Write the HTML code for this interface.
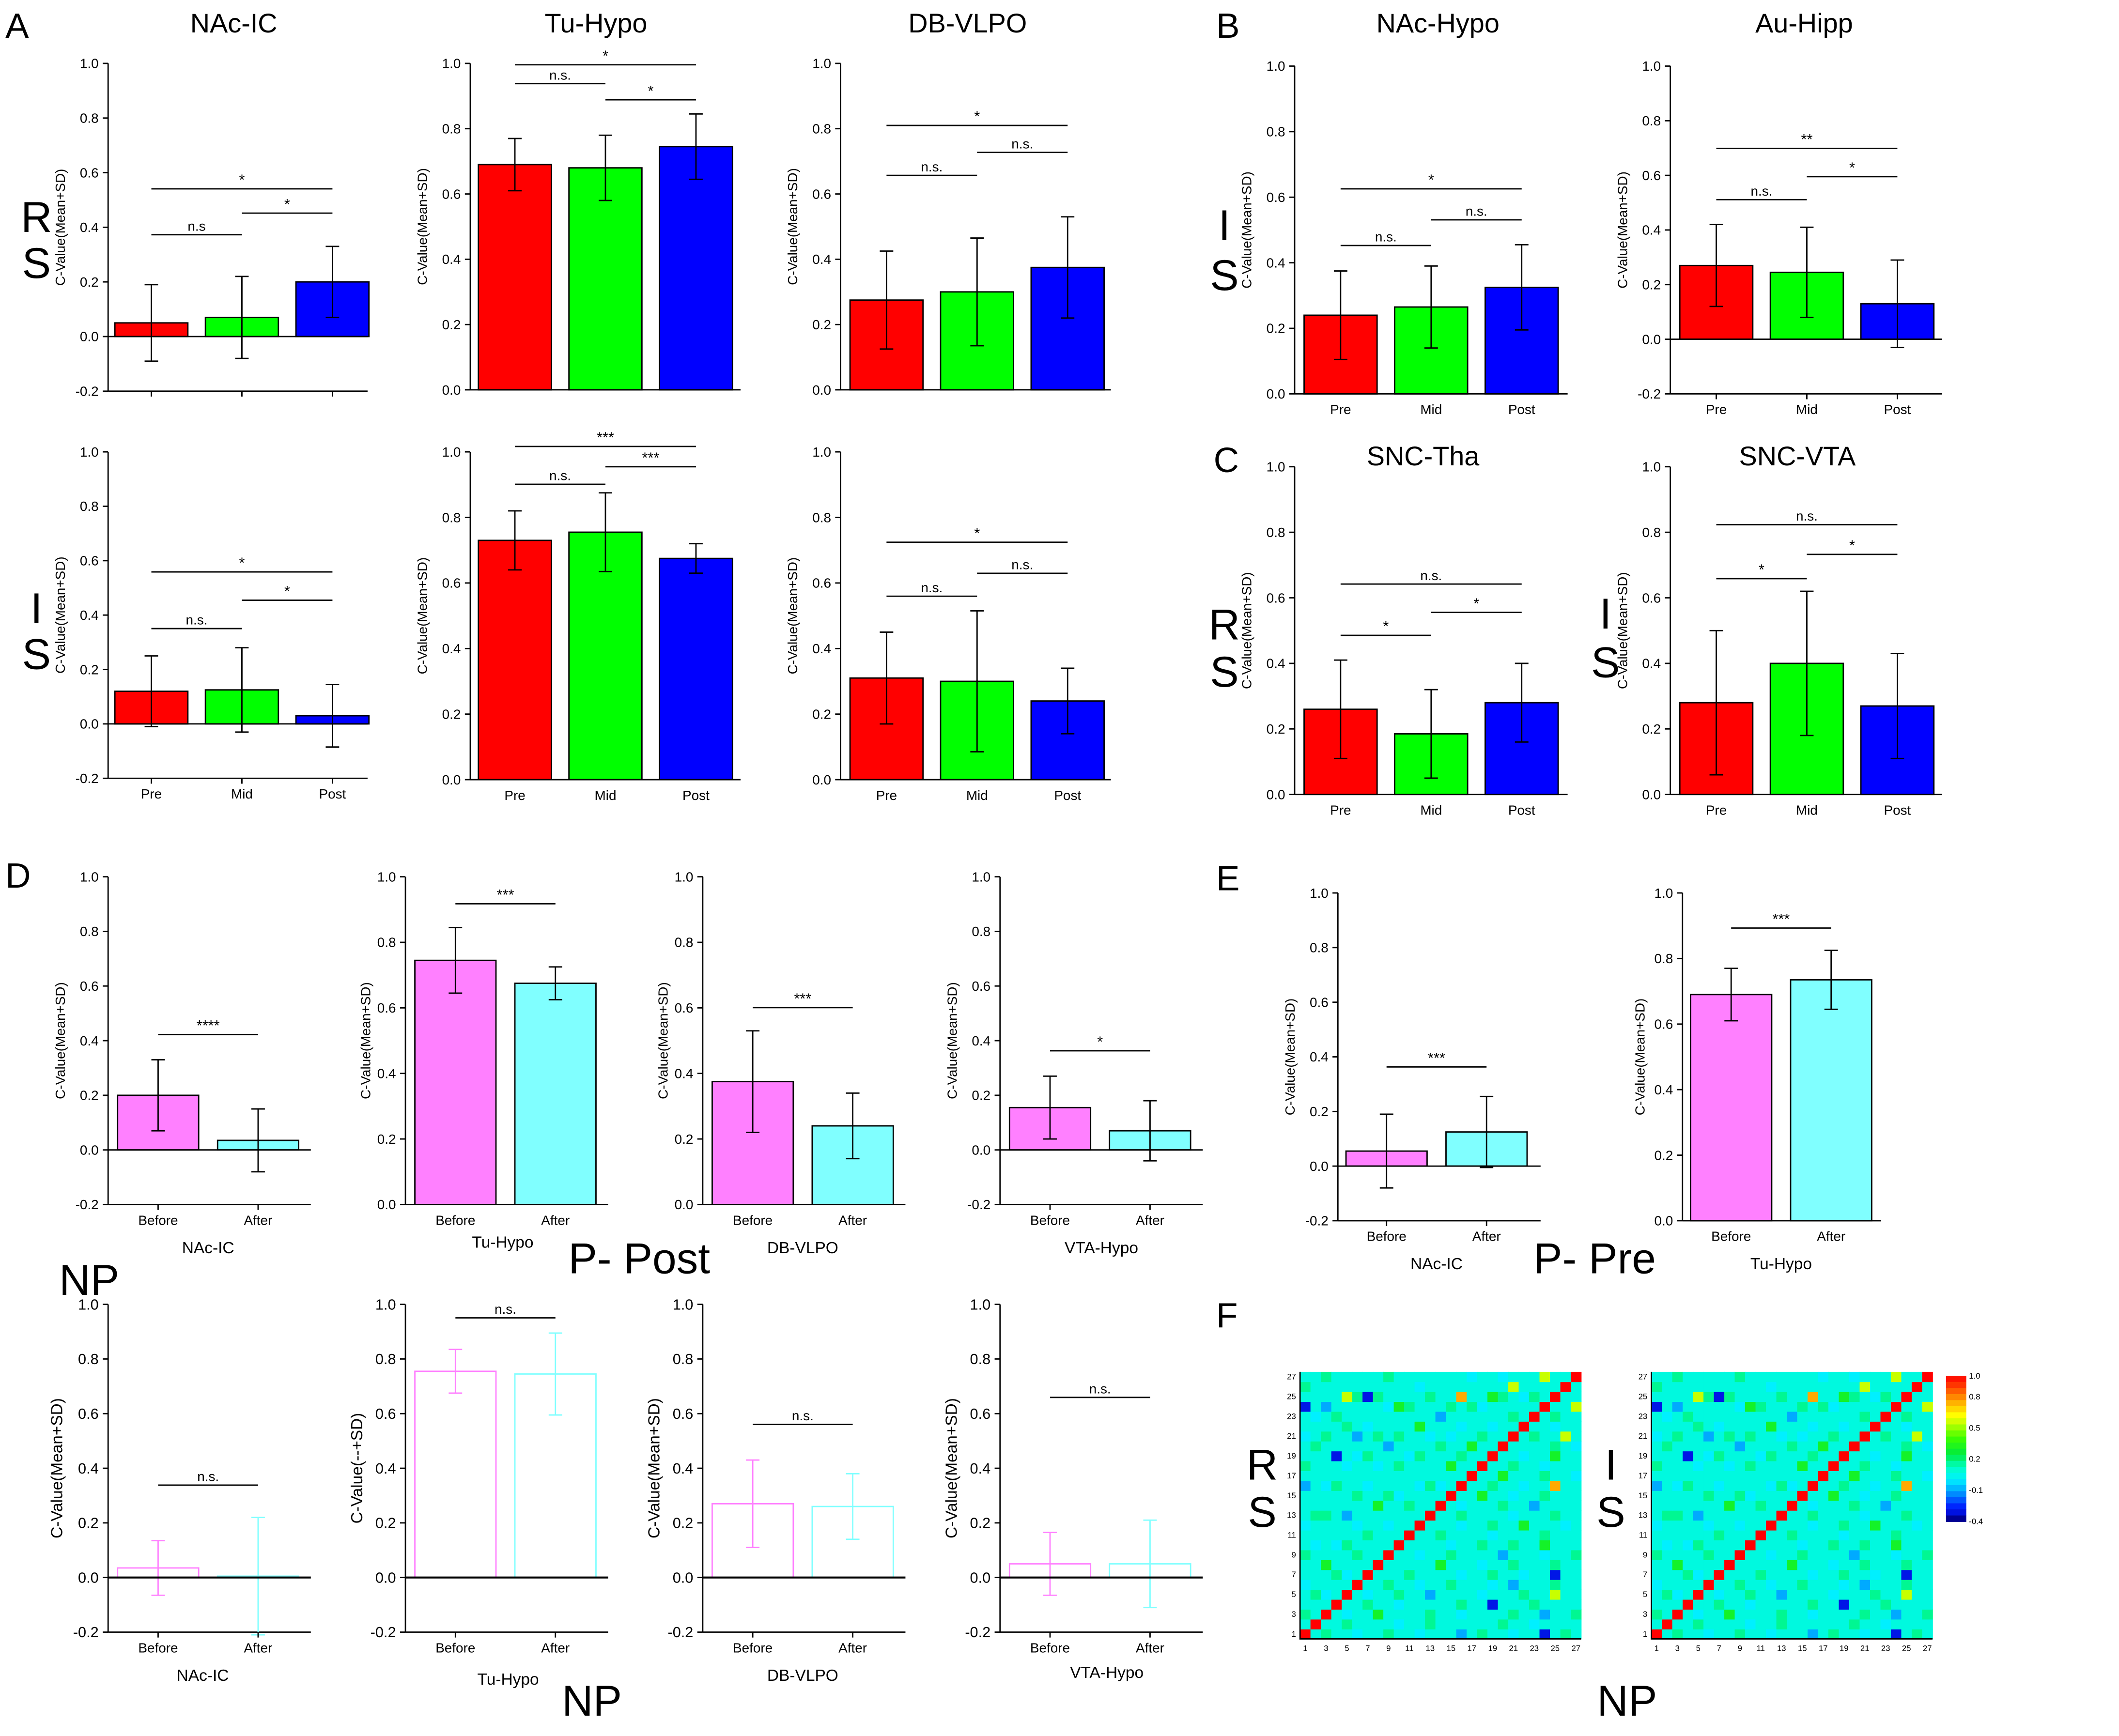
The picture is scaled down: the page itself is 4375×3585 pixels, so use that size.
<!DOCTYPE html>
<html><head><meta charset="utf-8"><style>
html,body{margin:0;padding:0;background:#fff;}
svg{display:block;font-family:"Liberation Sans",Arial,sans-serif;}
</style></head><body>
<svg id="fig" xmlns="http://www.w3.org/2000/svg" width="4375" height="3585" viewBox="0 0 1568 1287" preserveAspectRatio="none">
<rect width="1568" height="1287" fill="#fff"/>
<g id="labels" font-size="26">
<text x="4" y="28">A</text>
<text x="900" y="28">B</text>
<text x="898" y="350">C</text>
<text x="4" y="658">D</text>
<text x="900" y="660">E</text>
<text x="900" y="984">F</text>
</g>
<g font-size="32" text-anchor="middle">
<text x="27" y="172">R</text>
<text x="27" y="206">S</text>
<text x="27" y="462">I</text>
<text x="27" y="496">S</text>
<text x="906" y="178">I</text>
<text x="906" y="215">S</text>
<text x="906" y="474">R</text>
<text x="906" y="509">S</text>
<text x="1188" y="466">I</text>
<text x="1188" y="502">S</text>
<text x="473" y="944">P- Post</text>
<text x="66" y="960">NP</text>
<text x="1180" y="944">P- Pre</text>
<text x="438" y="1272">NP</text>
<text x="934" y="1097">R</text>
<text x="934" y="1132">S</text>
<text x="1192" y="1097">I</text>
<text x="1192" y="1132">S</text>
<text x="1204" y="1272">NP</text>
</g>
</svg>
<script>
// ---- data ----
const catsA = ["Pre","Mid","Post"];
const catsD = ["Before","After"];
const valsA1 = [0.05,0.07,0.20];      const sdA1 = [0.14,0.15,0.13];
const valsA2 = [0.69,0.68,0.745];     const sdA2 = [0.08,0.10,0.10];
const valsA3 = [0.275,0.30,0.375];    const sdA3 = [0.15,0.165,0.155];
const valsA4 = [0.12,0.125,0.03];     const sdA4 = [0.13,0.155,0.115];
const valsA5 = [0.73,0.755,0.675];    const sdA5 = [0.09,0.12,0.045];
const valsA6 = [0.31,0.30,0.24];      const sdA6 = [0.14,0.215,0.10];
const valsB1 = [0.24,0.265,0.325];    const sdB1 = [0.135,0.125,0.13];
const valsB2 = [0.27,0.245,0.13];     const sdB2 = [0.15,0.165,0.16];
const valsC1 = [0.26,0.185,0.28];     const sdC1 = [0.15,0.135,0.12];
const valsC2 = [0.28,0.40,0.27];      const sdC2 = [0.22,0.22,0.16];
const valsD1 = [0.20,0.035];  const sdD1 = [0.13,0.115];
const valsD2 = [0.745,0.675]; const sdD2 = [0.10,0.05];
const valsD3 = [0.375,0.24];  const sdD3 = [0.155,0.10];
const valsD4 = [0.155,0.07];  const sdD4 = [0.115,0.11];
const valsE1 = [0.055,0.125]; const sdE1 = [0.135,0.13];
const valsE2 = [0.69,0.735];  const sdE2 = [0.08,0.09];
const valsN1 = [0.035,0.005]; const sdN1 = [0.10,0.215];
const valsN2 = [0.755,0.745]; const sdN2 = [0.08,0.15];
const valsN3 = [0.27,0.26];   const sdN3 = [0.16,0.12];
const valsN4 = [0.05,0.05];   const sdN4 = [0.115,0.16];
const yTicks = [1.0,0.8,0.6,0.4,0.2,0.0,-0.2];
const hmRows = [
"R.:..,..:..,...b.:..,..B.:.",".R..:....,..:......:..,....","..R.,..g....:..,....:..b..:",
"...R..:..,.....:..B...:....","....R.,..:..b....,...:..y..",".....R..:..,..:...,.b...:..",
"......R...:....,..:..,..B..",".......R.....g...,..:...:..","........R..,..:....b...,..:",
".........R....,..:..:..g...","..........R..:....,....:...","...........R...,..:..g...,.",
"............R..:....,...:..",".............R.,...:..b....","..............R..g..,..:...",
"...............R..:..,..o..","................R..g...:..,",".................R..:..,...",
"..................R..,..g..","...................R....:.,","....................R.:..y.",
".....................R..,..","......................R.:..",".......................R..y",
"........................R..",".........................R.","..........................R"];
const hmLevels = {'.':0.07, ',':0.0, ':':0.17, 'g':0.3, 'b':-0.1, 'B':-0.3, 'y':0.55, 'o':0.75, 'R':1.0};
const cbTicks = [1.0,0.8,0.5,0.2,-0.1,-0.4];

const NS="http://www.w3.org/2000/svg";
const svg=document.getElementById('fig');
function mk(tag,attrs,parent){const e=document.createElementNS(NS,tag);for(const k in attrs)e.setAttribute(k,attrs[k]);(parent||svg).appendChild(e);return e;}
function txt(s,attrs,parent){const e=mk('text',attrs,parent);e.textContent=s;return e;}

const RED="#ff0000",GRN="#00ff00",BLU="#0000ff",MAG="#ff80ff",CYN="#80ffff";

function panel(o){
  const g=mk('g',{});
  
  
  const min=o.min, ax=o.ax, ytop=o.ytop, ybot=o.ybot;
  const Y=v=>ytop+(1-v)/(1-min)*(ybot-ytop);
  const fs=o.fs||10;
  if(o.title){const t=txt(o.title,{x:o.tx,y:o.ty||24,'font-size':20,'text-anchor':'middle'},g);
    
    }
  const ya=mk('line',{x1:ax,y1:ytop,x2:ax,y2:ybot,stroke:'#000','stroke-width':1},g);
  
  
  yTicks.filter(v=>v>=min-1e-9).forEach(v=>{
    mk('line',{x1:ax-4,y1:Y(v),x2:ax,y2:Y(v),stroke:'#000','stroke-width':1},g);
    const t=txt(v.toFixed(1),{x:ax-7,y:Y(v)+fs*0.35,'font-size':fs,'text-anchor':'end'},g);
    
    
  });
  const yt=txt(o.ytitle||"C-Value(Mean+SD)",{transform:`translate(${ax-o.ytoff},${(ytop+ybot)/2}) rotate(-90)`,'font-size':o.yfs||10,'text-anchor':'middle'},g);
  
  
  if(min<0){mk('line',{x1:ax,y1:ybot,x2:o.right,y2:ybot,stroke:'#000','stroke-width':1},g);}
  o.vals.forEach((v,i)=>{
    const cx=o.c0+i*o.step, w=o.bw;
    const y0=Y(0), yv=Y(v);
    const r=mk('rect',{x:cx-w/2,y:Math.min(y0,yv),width:w,height:Math.abs(y0-yv),
      fill:o.outline?'none':o.colors[i],stroke:o.outline?o.colors[i]:'#000','stroke-width':1},g);
    
    
    const ec=o.outline?o.colors[i]:'#000';
    const eb=mk('path',{d:`M${cx},${Y(v-o.sds[i])}V${Y(v+o.sds[i])}M${cx-5},${Y(v-o.sds[i])}H${cx+5}M${cx-5},${Y(v+o.sds[i])}H${cx+5}`,stroke:ec,'stroke-width':1,fill:'none'},g);
    
    
    if(min<0) mk('line',{x1:cx,y1:ybot,x2:cx,y2:ybot+4,stroke:'#000'},g);
    if(o.xlabels){const t=txt(o.cats[i],{x:cx,y:ybot+15,'font-size':o.xfs||10,'text-anchor':'middle'},g);
      
      }
  });
  const zl=mk('line',{x1:ax,y1:Y(0),x2:o.right,y2:Y(0),stroke:'#000','stroke-width':o.outline?1.5:1},g);
  
  
  (o.sig||[]).forEach(s=>{
    const x1=o.c0+s[0]*o.step, x2=o.c0+s[1]*o.step;
    const l=mk('line',{x1:x1,y1:s[2],x2:x2,y2:s[2],stroke:'#000','stroke-width':1},g);
    
    
    const t=txt(s[3],{x:(x1+x2)/2,y:s[2]-3,'font-size':s[3].includes('n')?10:11,'text-anchor':'middle'},g);
    
    
  });
  if(o.sub){const t=txt(o.sub,{x:o.subx,y:o.suby,'font-size':12,'text-anchor':'middle'},g);
    
    }
}
const C3=[RED,GRN,BLU];
panel({name:'a-rs-nac-ic',title:'NAc-IC',tx:173,ax:80,right:272,ytop:47,ybot:290,min:-0.2,c0:112,step:67,bw:54,cats:catsA,vals:valsA1,sds:sdA1,colors:C3,ytoff:32,
  sig:[[0,1,174,'n.s'],[1,2,158,'*'],[0,2,140,'*']]});
panel({name:'a-rs-tu-hypo',title:'Tu-Hypo',tx:441,ax:348,right:548,ytop:47,ybot:289,min:0,c0:381,step:67,bw:54,cats:catsA,vals:valsA2,sds:sdA2,colors:C3,ytoff:32,
  sig:[[0,1,62,'n.s.'],[1,2,74,'*'],[0,2,48,'*']]});
panel({name:'a-rs-db-vlpo',title:'DB-VLPO',tx:716,ax:622,right:822,ytop:47,ybot:289,min:0,c0:656,step:67,bw:54,cats:catsA,vals:valsA3,sds:sdA3,colors:C3,ytoff:32,
  sig:[[0,1,130,'n.s.'],[1,2,113,'n.s.'],[0,2,93,'*']]});
panel({name:'a-is-nac-ic',ax:80,right:272,ytop:335,ybot:577,min:-0.2,c0:112,step:67,bw:54,cats:catsA,vals:valsA4,sds:sdA4,colors:C3,xlabels:true,ytoff:32,
  sig:[[0,1,466,'n.s.'],[1,2,445,'*'],[0,2,424,'*']]});
panel({name:'a-is-tu-hypo',ax:348,right:548,ytop:335,ybot:578,min:0,c0:381,step:67,bw:54,cats:catsA,vals:valsA5,sds:sdA5,colors:C3,xlabels:true,ytoff:32,
  sig:[[0,1,359,'n.s.'],[1,2,346,'***'],[0,2,331,'***']]});
panel({name:'a-is-db-vlpo',ax:622,right:822,ytop:335,ybot:578,min:0,c0:656,step:67,bw:54,cats:catsA,vals:valsA6,sds:sdA6,colors:C3,xlabels:true,ytoff:32,
  sig:[[0,1,442,'n.s.'],[1,2,425,'n.s.'],[0,2,402,'*']]});
panel({name:'b-nac-hypo',title:'NAc-Hypo',tx:1064,ax:958,right:1160,ytop:49,ybot:292,min:0,c0:992,step:67,bw:54,cats:catsA,vals:valsB1,sds:sdB1,colors:C3,xlabels:true,ytoff:32,
  sig:[[0,1,182,'n.s.'],[1,2,163,'n.s.'],[0,2,140,'*']]});
panel({name:'b-au-hipp',title:'Au-Hipp',tx:1335,ax:1236,right:1437,ytop:49,ybot:292,min:-0.2,c0:1270,step:67,bw:54,cats:catsA,vals:valsB2,sds:sdB2,colors:C3,xlabels:true,ytoff:32,
  sig:[[0,1,148,'n.s.'],[1,2,131,'*'],[0,2,110,'**']]});
panel({name:'c-snc-tha',title:'SNC-Tha',tx:1053,ty:345,ax:958,right:1160,ytop:346,ybot:589,min:0,c0:992,step:67,bw:54,cats:catsA,vals:valsC1,sds:sdC1,colors:C3,xlabels:true,ytoff:32,
  sig:[[0,1,471,'*'],[1,2,454,'*'],[0,2,433,'n.s.']]});
panel({name:'c-snc-vta',title:'SNC-VTA',tx:1330,ty:345,ax:1236,right:1437,ytop:346,ybot:589,min:0,c0:1270,step:67,bw:54,cats:catsA,vals:valsC2,sds:sdC2,colors:C3,xlabels:true,ytoff:32,
  sig:[[0,1,429,'*'],[1,2,411,'*'],[0,2,389,'n.s.']]});
const CD=[MAG,CYN];
panel({name:'d-post-nac-ic',ax:80,right:230,ytop:650,ybot:893,min:-0.2,c0:117,step:74,bw:60,cats:catsD,vals:valsD1,sds:sdD1,colors:CD,xlabels:true,ytoff:32,sig:[[0,1,767,'****']],sub:'NAc-IC',subx:154,suby:929});
panel({name:'d-post-tu-hypo',ax:300,right:450,ytop:650,ybot:893,min:0,c0:337,step:74,bw:60,cats:catsD,vals:valsD2,sds:sdD2,colors:CD,xlabels:true,ytoff:26,sig:[[0,1,670,'***']],sub:'Tu-Hypo',subx:372,suby:925});
panel({name:'d-post-db-vlpo',ax:520,right:670,ytop:650,ybot:893,min:0,c0:557,step:74,bw:60,cats:catsD,vals:valsD3,sds:sdD3,colors:CD,xlabels:true,ytoff:26,sig:[[0,1,747,'***']],sub:'DB-VLPO',subx:594,suby:929});
panel({name:'d-post-vta-hypo',ax:740,right:890,ytop:650,ybot:893,min:-0.2,c0:777,step:74,bw:60,cats:catsD,vals:valsD4,sds:sdD4,colors:CD,xlabels:true,ytoff:32,sig:[[0,1,779,'*']],sub:'VTA-Hypo',subx:815,suby:929});
panel({name:'e-pre-nac-ic',ax:990,right:1140,ytop:662,ybot:905,min:-0.2,c0:1026,step:74,bw:60,cats:catsD,vals:valsE1,sds:sdE1,colors:CD,xlabels:true,ytoff:32,sig:[[0,1,791,'***']],sub:'NAc-IC',subx:1063,suby:941});
panel({name:'e-pre-tu-hypo',ax:1245,right:1392,ytop:662,ybot:905,min:0,c0:1281,step:74,bw:60,cats:catsD,vals:valsE2,sds:sdE2,colors:CD,xlabels:true,ytoff:28,sig:[[0,1,688,'***']],sub:'Tu-Hypo',subx:1318,suby:941});
panel({name:'np-nac-ic',ax:80,right:230,ytop:967,ybot:1210,min:-0.2,c0:117,step:74,bw:60,cats:catsD,vals:valsN1,sds:sdN1,colors:CD,outline:true,xlabels:true,fs:11,yfs:12,ytoff:34,sig:[[0,1,1101,'n.s.']],sub:'NAc-IC',subx:150,suby:1246});
panel({name:'np-tu-hypo',ax:300,right:450,ytop:967,ybot:1210,min:-0.2,c0:337,step:74,bw:60,cats:catsD,vals:valsN2,sds:sdN2,colors:CD,outline:true,xlabels:true,fs:11,yfs:12,ytoff:32,ytitle:'C-Value(--+SD)',sig:[[0,1,977,'n.s.']],sub:'Tu-Hypo',subx:376,suby:1249});
panel({name:'np-db-vlpo',ax:520,right:670,ytop:967,ybot:1210,min:-0.2,c0:557,step:74,bw:60,cats:catsD,vals:valsN3,sds:sdN3,colors:CD,outline:true,xlabels:true,fs:11,yfs:12,ytoff:32,sig:[[0,1,1056,'n.s.']],sub:'DB-VLPO',subx:594,suby:1246});
panel({name:'np-vta-hypo',ax:740,right:890,ytop:967,ybot:1210,min:-0.2,c0:777,step:74,bw:60,cats:catsD,vals:valsN4,sds:sdN4,colors:CD,outline:true,xlabels:true,fs:11,yfs:12,ytoff:32,sig:[[0,1,1036,'n.s.']],sub:'VTA-Hypo',subx:819,suby:1244});

// ---- heatmaps ----
const cmapStops=[[-0.4,[0,0,0]],[-0.36,[0,0,200]],[-0.25,[0,40,255]],[-0.1,[0,170,255]],[0.0,[0,240,255]],[0.12,[0,255,200]],[0.25,[0,235,60]],[0.4,[60,255,0]],[0.55,[200,255,0]],[0.62,[255,255,0]],[0.75,[255,170,0]],[0.9,[255,60,0]],[1.0,[255,0,0]]];
function cmap(v){
  if(v<=cmapStops[0][0])return 'rgb(0,0,0)';
  for(let k=1;k<cmapStops.length;k++){const a=cmapStops[k-1],b=cmapStops[k];
    if(v<=b[0]){const t=(v-a[0])/(b[0]-a[0]);const c=a[1].map((x,i)=>Math.round(x+(b[1][i]-x)*t));return `rgb(${c[0]},${c[1]},${c[2]})`;}}
  return 'rgb(255,0,0)';
}
function hmVal(i,j){const a=Math.min(i,j),b=Math.max(i,j);return hmLevels[hmRows[a][b]];}
function heatmap(x0,name){
  const g=mk('g',{});
  
  
  const y0=1017,W=208,H=198,n=27,cw=W/n,ch=H/n;
  for(let i=0;i<n;i++)for(let j=0;j<n;j++){
    const r=mk('rect',{x:x0+j*cw,y:y0+H-(i+1)*ch,width:cw+0.3,height:ch+0.3,fill:cmap(hmVal(i,j))},g);
    
    
  }
  mk('path',{d:`M${x0},${y0}V${y0+H}H${x0+W}`,stroke:'#000',fill:'none','stroke-width':1},g);
  for(let k=1;k<=n;k+=2){
    const t1=txt(String(k),{x:x0+(k-0.5)*cw,y:y0+H+9,'font-size':6,'text-anchor':'middle'},g);
    
    
    const t2=txt(String(k),{x:x0-3,y:y0+H-(k-0.5)*ch+2,'font-size':6,'text-anchor':'end'},g);
    
    
  }
}
heatmap(962,'heatmap-rs');
heatmap(1222,'heatmap-is');
(function(){
  const g=mk('g',{});
  
  
  const x=1440,y0=1020,h=108,steps=24;
  for(let s=0;s<steps;s++){const v=1-(s+0.5)/steps*1.4;
    mk('rect',{x:x,y:y0+s*h/steps,width:15,height:h/steps+0.3,fill:cmap(v)},g);}
  cbTicks.forEach(v=>{
    const t=txt(v.toFixed(1),{x:x+17,y:y0+(1-v)/1.4*h+2,'font-size':6},g);
    
    
  });
})();
</script>
</body></html>
